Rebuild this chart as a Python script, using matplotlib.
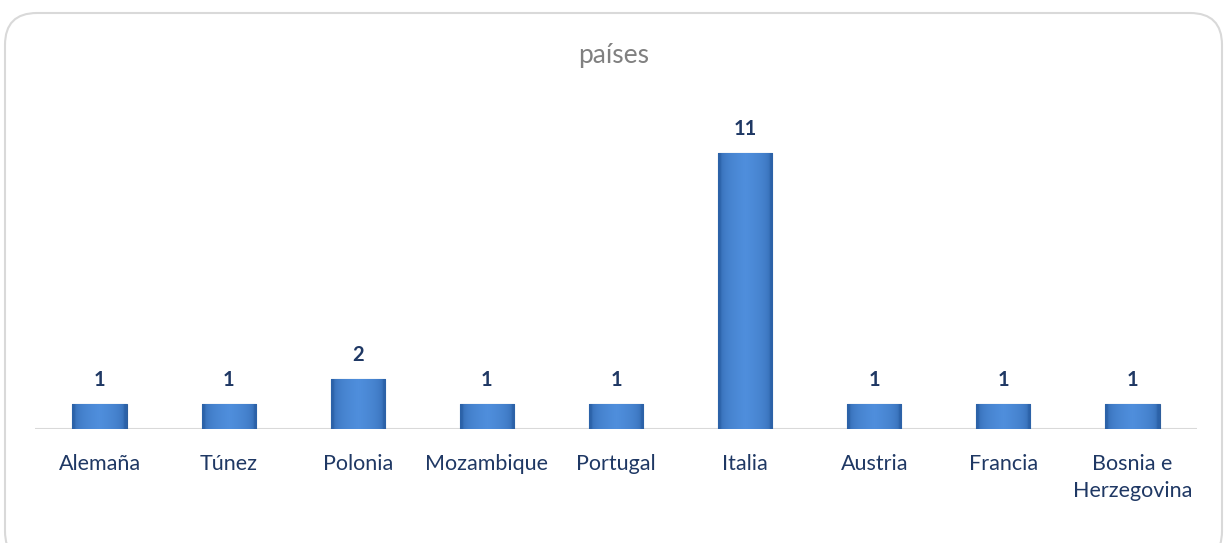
import numpy as np
import matplotlib.pyplot as plt
from matplotlib.colors import LinearSegmentedColormap
from matplotlib.patches import FancyBboxPatch

# Data
paises = ['Alemaña', 'Túnez', 'Polonia', 'Mozambique', 'Portugal',
          'Italia', 'Austria', 'Francia', 'Bosnia e\nHerzegovina']
valores = [1, 1, 2, 1, 1, 11, 1, 1, 1]

plt.rcParams['font.family'] = ['Lato', 'DejaVu Sans']

fig = plt.figure(figsize=(12.28, 5.43), dpi=100)

# rounded border of the chart area (bottom runs off the image)
borde = FancyBboxPatch((5 / 1228, -20 / 543), 1217 / 1228, 550 / 543,
                       boxstyle='round,pad=0,rounding_size=0.026',
                       transform=fig.transFigure, facecolor='none',
                       edgecolor='#D9D9D9', linewidth=1.5,
                       mutation_aspect=1228 / 543, zorder=-1)
fig.patches.append(borde)

ax = fig.add_axes([35 / 1228, 114 / 543, 1162 / 1228, 301 / 543])
ax.set_facecolor('none')

x = np.arange(len(paises))
bars = ax.bar(x, valores, width=0.42, color='#3F7DC9',
              edgecolor='#2E5E9C', linewidth=0.8, zorder=3)

# horizontal gradient inside each bar for the bevel look
cmap = LinearSegmentedColormap.from_list('azul', ['#2C62A8', '#4F8EDC'])
grad = np.linspace(0, 1, 64)
grad = np.clip(1 - np.abs(grad - 0.5) * 2.2, 0, 1) ** 0.3
grad = np.vstack([grad, grad])
for b in bars:
    x0, y0 = b.get_x(), b.get_y()
    w, h = b.get_width(), b.get_height()
    im = ax.imshow(grad, extent=[x0, x0 + w, y0, y0 + h], aspect='auto',
                   cmap=cmap, zorder=3.5, origin='lower')
    im.set_clip_path(b)

for xi, v in zip(x, valores):
    ax.annotate(str(v), (xi, v), xytext=(0, 17), textcoords='offset points',
                ha='center', va='center', fontsize=14.5, fontweight='bold',
                color='#1F3864')

ax.set_xlim(-0.5, len(paises) - 0.5)
ax.set_ylim(0, 12)
ax.axhline(0, color='#D9D9D9', linewidth=1.5, zorder=2)

ax.set_xticks(x)
ax.set_xticklabels(paises, fontsize=15.5, color='#1F3864', linespacing=1.45)
ax.tick_params(axis='x', length=0, pad=18)
ax.set_yticks([])
for s in ax.spines.values():
    s.set_visible(False)

fig.text(0.5, 1 - 55 / 543, 'países', ha='center', va='center',
         fontsize=19, color='#808080')

fig.savefig('out.png', dpi=100)
